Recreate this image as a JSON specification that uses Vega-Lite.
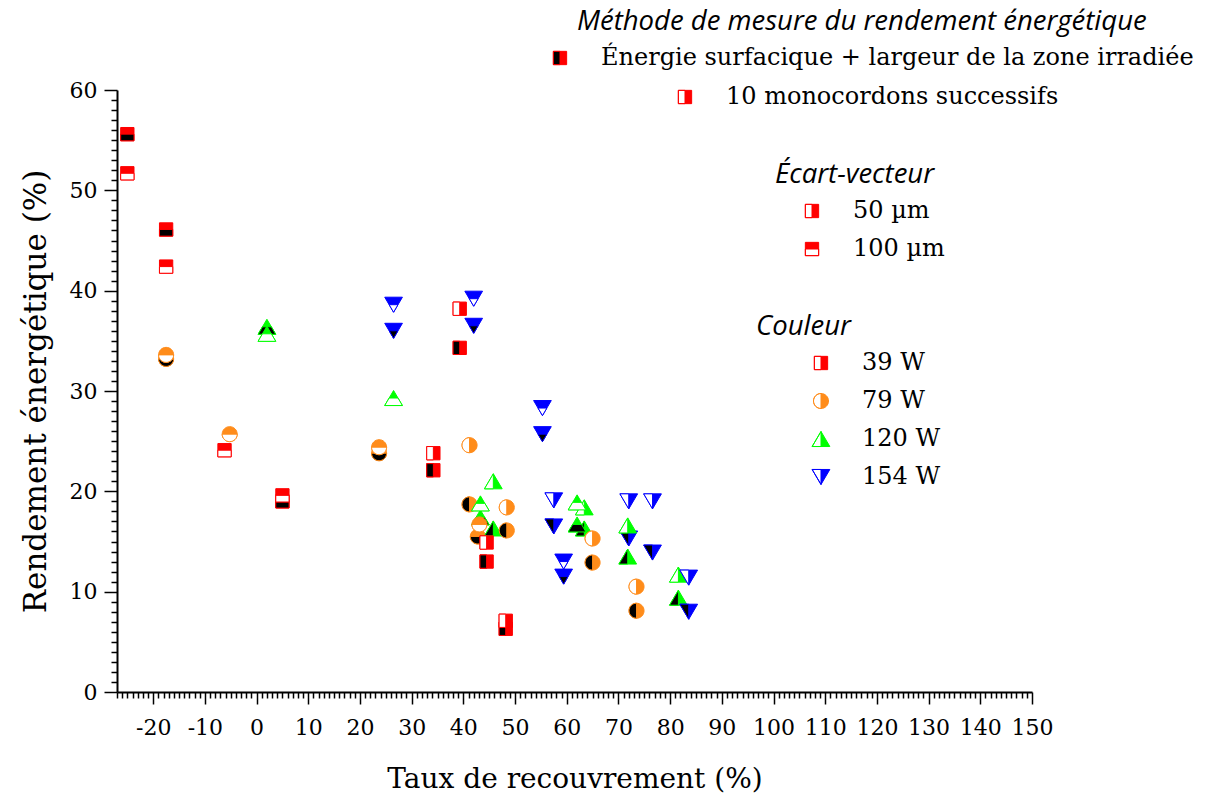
{
  "$schema": "https://vega.github.io/schema/vega-lite/v6.json",
  "width": 915,
  "height": 602,
  "autosize": {"type": "none"},
  "padding": {"left": 117, "top": 90, "right": 173, "bottom": 106},
  "background": "white",
  "config": {
    "view": {"stroke": null},
    "axis": {"domainColor": "black", "domainWidth": 2, "tickColor": "black", "tickWidth": 1.5, "labelFont": "DejaVu Serif", "labelFontSize": 22, "labelColor": "black", "titleFont": "DejaVu Serif", "titleFontSize": 28, "titleFontWeight": "normal", "titleColor": "black", "grid": false, "labelOverlap": false, "labelFlush": false, "labelBound": false},
    "legend": {"labelFont": "DejaVu Serif", "labelFontSize": 24, "labelColor": "black", "titleFont": "Open Sans", "titleFontStyle": "italic", "titleFontSize": 27.5, "titleFontWeight": "normal", "titleColor": "black", "symbolSize": 177, "labelOffset": 29, "rowPadding": 14, "padding": 0, "titleLimit": 1000, "labelLimit": 1000, "symbolStrokeWidth": 1, "titlePadding": 6}
  },
  "data": {"values": [
    {"x": -25, "y": 55.6, "p": "39 W", "v": 100, "m": "E"},
    {"x": -25, "y": 51.7, "p": "39 W", "v": 100, "m": "M"},
    {"x": -17.5, "y": 46.1, "p": "39 W", "v": 100, "m": "E"},
    {"x": -17.5, "y": 42.4, "p": "39 W", "v": 100, "m": "M"},
    {"x": -6.2, "y": 24.1, "p": "39 W", "v": 100, "m": "M"},
    {"x": 5.0, "y": 19.0, "p": "39 W", "v": 100, "m": "E"},
    {"x": 5.0, "y": 19.6, "p": "39 W", "v": 100, "m": "M"},
    {"x": 34.2, "y": 23.8, "p": "39 W", "v": 50, "m": "M"},
    {"x": 34.2, "y": 22.1, "p": "39 W", "v": 50, "m": "E"},
    {"x": 39.3, "y": 38.2, "p": "39 W", "v": 50, "m": "M"},
    {"x": 39.3, "y": 34.3, "p": "39 W", "v": 50, "m": "E"},
    {"x": 44.5, "y": 14.9, "p": "39 W", "v": 50, "m": "M"},
    {"x": 44.5, "y": 13.0, "p": "39 W", "v": 50, "m": "E"},
    {"x": 48.2, "y": 7.1, "p": "39 W", "v": 50, "m": "M"},
    {"x": 48.2, "y": 6.3, "p": "39 W", "v": 50, "m": "E"},
    {"x": -17.5, "y": 33.6, "p": "79 W", "v": 100, "m": "M"},
    {"x": -17.5, "y": 33.2, "p": "79 W", "v": 100, "m": "E"},
    {"x": -5.2, "y": 25.7, "p": "79 W", "v": 100, "m": "M"},
    {"x": 23.7, "y": 24.4, "p": "79 W", "v": 100, "m": "M"},
    {"x": 23.7, "y": 23.8, "p": "79 W", "v": 100, "m": "E"},
    {"x": 41.2, "y": 24.6, "p": "79 W", "v": 50, "m": "M"},
    {"x": 41.2, "y": 18.7, "p": "79 W", "v": 50, "m": "E"},
    {"x": 43.1, "y": 16.7, "p": "79 W", "v": 100, "m": "M"},
    {"x": 42.8, "y": 15.5, "p": "79 W", "v": 100, "m": "E"},
    {"x": 48.4, "y": 18.4, "p": "79 W", "v": 50, "m": "M"},
    {"x": 48.4, "y": 16.1, "p": "79 W", "v": 50, "m": "E"},
    {"x": 65.0, "y": 15.3, "p": "79 W", "v": 50, "m": "M"},
    {"x": 65.0, "y": 12.9, "p": "79 W", "v": 50, "m": "E"},
    {"x": 73.5, "y": 10.5, "p": "79 W", "v": 50, "m": "M"},
    {"x": 73.5, "y": 8.1, "p": "79 W", "v": 50, "m": "E"},
    {"x": 2.0, "y": 36.4, "p": "120 W", "v": 100, "m": "E"},
    {"x": 2.0, "y": 35.7, "p": "120 W", "v": 100, "m": "M"},
    {"x": 26.5, "y": 29.3, "p": "120 W", "v": 100, "m": "M"},
    {"x": 45.8, "y": 21.0, "p": "120 W", "v": 50, "m": "M"},
    {"x": 45.8, "y": 16.3, "p": "120 W", "v": 50, "m": "E"},
    {"x": 43.3, "y": 18.8, "p": "120 W", "v": 100, "m": "M"},
    {"x": 43.3, "y": 17.4, "p": "120 W", "v": 100, "m": "E"},
    {"x": 62.0, "y": 18.9, "p": "120 W", "v": 100, "m": "M"},
    {"x": 62.0, "y": 16.7, "p": "120 W", "v": 100, "m": "E"},
    {"x": 63.4, "y": 18.4, "p": "120 W", "v": 50, "m": "M"},
    {"x": 63.4, "y": 16.3, "p": "120 W", "v": 50, "m": "E"},
    {"x": 71.8, "y": 16.6, "p": "120 W", "v": 50, "m": "M"},
    {"x": 71.8, "y": 13.5, "p": "120 W", "v": 50, "m": "E"},
    {"x": 81.6, "y": 11.7, "p": "120 W", "v": 50, "m": "M"},
    {"x": 81.6, "y": 9.4, "p": "120 W", "v": 50, "m": "E"},
    {"x": 26.5, "y": 38.6, "p": "154 W", "v": 100, "m": "M"},
    {"x": 26.5, "y": 36.0, "p": "154 W", "v": 100, "m": "E"},
    {"x": 42.0, "y": 39.2, "p": "154 W", "v": 100, "m": "M"},
    {"x": 42.0, "y": 36.5, "p": "154 W", "v": 100, "m": "E"},
    {"x": 55.3, "y": 28.3, "p": "154 W", "v": 100, "m": "M"},
    {"x": 55.3, "y": 25.7, "p": "154 W", "v": 100, "m": "E"},
    {"x": 57.5, "y": 19.1, "p": "154 W", "v": 50, "m": "M"},
    {"x": 57.5, "y": 16.5, "p": "154 W", "v": 50, "m": "E"},
    {"x": 59.4, "y": 13.0, "p": "154 W", "v": 100, "m": "M"},
    {"x": 59.4, "y": 11.5, "p": "154 W", "v": 100, "m": "E"},
    {"x": 72.0, "y": 19.0, "p": "154 W", "v": 50, "m": "M"},
    {"x": 72.0, "y": 15.3, "p": "154 W", "v": 50, "m": "E"},
    {"x": 76.6, "y": 19.0, "p": "154 W", "v": 50, "m": "M"},
    {"x": 76.6, "y": 13.9, "p": "154 W", "v": 50, "m": "E"},
    {"x": 83.6, "y": 11.4, "p": "154 W", "v": 50, "m": "M"},
    {"x": 83.6, "y": 8.0, "p": "154 W", "v": 50, "m": "E"}
  ]},
  "encoding": {
    "x": {"field": "x", "type": "quantitative", "scale": {"domain": [-27, 150], "nice": false, "zero": false},
      "axis": {"title": "Taux de recouvrement (%)", "tickCount": 180, "labelExpr": "datum.value % 10 === 0 ? '' + datum.value : ''", "tickSize": {"condition": {"test": "datum.value % 10 === 0", "value": 12}, "value": 6}, "labelPadding": 13, "titlePadding": 27}},
    "y": {"field": "y", "type": "quantitative", "scale": {"domain": [0, 60], "nice": false, "zero": false},
      "axis": {"title": "Rendement énergétique (%)", "titleFontSize": 31, "tickCount": 60, "labelExpr": "datum.value % 10 === 0 ? '' + datum.value : ''", "tickSize": {"condition": {"test": "datum.value % 10 === 0", "value": 13}, "value": 6}, "labelPadding": 7, "titlePadding": 17}}
  },
  "layer": [
    {"transform": [{"filter": "datum.m === 'E'"}],
     "mark": {"type": "point", "filled": true, "opacity": 1, "size": 177, "strokeWidth": 1},
     "encoding": {
       "shape": {"field": "p", "type": "nominal", "scale": {"domain": ["39 W", "79 W", "120 W", "154 W"], "range": ["M-1,-1L1,-1L1,1L-1,1Z", "M-1.13,0A1.13,1.13,0,1,0,1.13,0A1.13,1.13,0,1,0,-1.13,0Z", "M0,-1.13L1.33,1.13L-1.33,1.13Z", "M-1.33,-1.13L1.33,-1.13L0,1.13Z"]}, "legend": null},
       "fill": {"field": "p", "type": "nominal", "scale": {"domain": ["39 W", "79 W", "120 W", "154 W"], "range": ["#ff0000", "#ff8c1a", "#00ff00", "#0000ff"]}, "legend": null},
       "stroke": {"field": "p", "type": "nominal", "scale": {"domain": ["39 W", "79 W", "120 W", "154 W"], "range": ["#ff0000", "#ff8c1a", "#00ff00", "#0000ff"]}, "legend": null}
     }},
    {"transform": [{"filter": "datum.m === 'E' && datum.v === 50"}],
     "mark": {"type": "point", "filled": true, "opacity": 1, "size": 177, "strokeWidth": 1, "fill": "#000000"},
     "encoding": {
       "shape": {"field": "p", "type": "nominal", "scale": {"domain": ["39 W", "79 W", "120 W", "154 W"], "range": ["M-1,-1L0,-1L0,1L-1,1Z", "M0,-1.13A1.13,1.13,0,0,0,0,1.13Z", "M0,-1.13L0,1.13L-1.33,1.13Z", "M-1.33,-1.13L0,-1.13L0,1.13Z"]}, "legend": null},
       "stroke": {"field": "p", "type": "nominal", "scale": {"domain": ["39 W", "79 W", "120 W", "154 W"], "range": ["#ff0000", "#ff8c1a", "#00ff00", "#0000ff"]}, "legend": null}
     }},
    {"transform": [{"filter": "datum.m === 'E' && datum.v === 100"}],
     "mark": {"type": "point", "filled": true, "opacity": 1, "size": 177, "strokeWidth": 1, "fill": "#000000"},
     "encoding": {
       "shape": {"field": "p", "type": "nominal", "scale": {"domain": ["39 W", "79 W", "120 W", "154 W"], "range": ["M-1,0L1,0L1,1L-1,1Z", "M-1.13,0A1.13,1.13,0,0,0,1.13,0Z", "M-0.665,0L0.665,0L1.33,1.13L-1.33,1.13Z", "M-0.665,0L0.665,0L0,1.13Z"]}, "legend": null},
       "stroke": {"field": "p", "type": "nominal", "scale": {"domain": ["39 W", "79 W", "120 W", "154 W"], "range": ["#ff0000", "#ff8c1a", "#00ff00", "#0000ff"]}, "legend": null}
     }},
    {"transform": [{"filter": "datum.m === 'M'"}],
     "mark": {"type": "point", "filled": true, "opacity": 1, "size": 177, "strokeWidth": 1},
     "encoding": {
       "shape": {"field": "p", "type": "nominal", "scale": {"domain": ["39 W", "79 W", "120 W", "154 W"], "range": ["M-1,-1L1,-1L1,1L-1,1Z", "M-1.13,0A1.13,1.13,0,1,0,1.13,0A1.13,1.13,0,1,0,-1.13,0Z", "M0,-1.13L1.33,1.13L-1.33,1.13Z", "M-1.33,-1.13L1.33,-1.13L0,1.13Z"]}, "legend": null},
       "fill": {"field": "p", "type": "nominal", "scale": {"domain": ["39 W", "79 W", "120 W", "154 W"], "range": ["#ff0000", "#ff8c1a", "#00ff00", "#0000ff"]}, "legend": null},
       "stroke": {"field": "p", "type": "nominal", "scale": {"domain": ["39 W", "79 W", "120 W", "154 W"], "range": ["#ff0000", "#ff8c1a", "#00ff00", "#0000ff"]}, "legend": null}
     }},
    {"transform": [{"filter": "datum.m === 'M' && datum.v === 50"}],
     "mark": {"type": "point", "filled": true, "opacity": 1, "size": 177, "strokeWidth": 1, "fill": "#ffffff"},
     "encoding": {
       "shape": {"field": "p", "type": "nominal", "scale": {"domain": ["39 W", "79 W", "120 W", "154 W"], "range": ["M-1,-1L0,-1L0,1L-1,1Z", "M0,-1.13A1.13,1.13,0,0,0,0,1.13Z", "M0,-1.13L0,1.13L-1.33,1.13Z", "M-1.33,-1.13L0,-1.13L0,1.13Z"]}, "legend": null},
       "stroke": {"field": "p", "type": "nominal", "scale": {"domain": ["39 W", "79 W", "120 W", "154 W"], "range": ["#ff0000", "#ff8c1a", "#00ff00", "#0000ff"]}, "legend": null}
     }},
    {"transform": [{"filter": "datum.m === 'M' && datum.v === 100"}],
     "mark": {"type": "point", "filled": true, "opacity": 1, "size": 177, "strokeWidth": 1, "fill": "#ffffff"},
     "encoding": {
       "shape": {"field": "p", "type": "nominal", "scale": {"domain": ["39 W", "79 W", "120 W", "154 W"], "range": ["M-1,0L1,0L1,1L-1,1Z", "M-1.13,0A1.13,1.13,0,0,0,1.13,0Z", "M-0.665,0L0.665,0L1.33,1.13L-1.33,1.13Z", "M-0.665,0L0.665,0L0,1.13Z"]}, "legend": null},
       "stroke": {"field": "p", "type": "nominal", "scale": {"domain": ["39 W", "79 W", "120 W", "154 W"], "range": ["#ff0000", "#ff8c1a", "#00ff00", "#0000ff"]}, "legend": null}
     }},
    {"transform": [{"filter": "false"}],
     "mark": {"type": "point", "filled": true, "opacity": 1},
     "encoding": {
       "fill": {"field": "m", "type": "nominal", "scale": {"domain": ["t"], "range": ["#ffffff"]},
         "legend": {"title": "Méthode de mesure du rendement énergétique", "orient": "none", "legendX": 460, "legendY": -82, "symbolOpacity": 0, "labelExpr": "''"}}
     }},
    {"transform": [{"filter": "false"}],
     "mark": {"type": "point", "filled": true, "opacity": 1, "stroke": "#ff0000", "strokeWidth": 1},
     "encoding": {
       "fill": {"field": "m", "type": "nominal", "scale": {"domain": ["Énergie surfacique + largeur de la zone irradiée"], "range": ["#ff0000"]},
         "legend": {"title": null, "orient": "none", "legendX": 431, "legendY": -44, "symbolType": "M-1,-1L1,-1L1,1L-1,1Z", "symbolStrokeColor": "#ff0000"}}
     }},
    {"transform": [{"filter": "false"}],
     "mark": {"type": "point", "filled": true, "opacity": 1, "stroke": "#ff0000", "strokeWidth": 1},
     "encoding": {
       "fill": {"field": "m", "type": "nominal", "scale": {"domain": ["Énergie surfacique + largeur de la zone irradiée"], "range": ["#000000"]},
         "legend": {"title": null, "orient": "none", "legendX": 431, "legendY": -44, "symbolType": "M-1,-1L0,-1L0,1L-1,1Z", "symbolStrokeColor": "#ff0000", "labelExpr": "''"}}
     }},
    {"transform": [{"filter": "false"}],
     "mark": {"type": "point", "filled": true, "opacity": 1, "stroke": "#ff0000", "strokeWidth": 1},
     "encoding": {
       "fill": {"field": "m", "type": "nominal", "scale": {"domain": ["10 monocordons successifs"], "range": ["#ff0000"]},
         "legend": {"title": null, "orient": "none", "legendX": 556, "legendY": -5, "symbolType": "M0,-1L1,-1L1,1L0,1ZM0,-1L-1,-1L-1,1L0,1L-1,1L-1,-1Z", "symbolStrokeColor": "#ff0000"}}
     }},
    {"transform": [{"filter": "false"}],
     "mark": {"type": "point", "filled": true, "opacity": 1},
     "encoding": {
       "fill": {"field": "m", "type": "nominal", "scale": {"domain": ["t"], "range": ["#ffffff"]},
         "legend": {"title": "Écart-vecteur", "orient": "none", "legendX": 658, "legendY": 71, "symbolOpacity": 0, "labelExpr": "''"}}
     }},
    {"transform": [{"filter": "false"}],
     "mark": {"type": "point", "filled": true, "opacity": 1, "strokeWidth": 1},
     "encoding": {
       "shape": {"field": "v", "type": "nominal", "scale": {"domain": ["50 µm", "100 µm"], "range": ["M0,-1L1,-1L1,1L0,1ZM0,-1L-1,-1L-1,1L0,1L-1,1L-1,-1Z", "M-1,-1L1,-1L1,0L-1,0ZM-1,0L-1,1L1,1L1,0L1,1L-1,1Z"]},
         "legend": {"title": null, "orient": "none", "legendX": 683, "legendY": 109}},
       "fill": {"field": "v", "type": "nominal", "scale": {"domain": ["50 µm", "100 µm"], "range": ["#ff0000", "#ff0000"]},
         "legend": {"title": null, "orient": "none", "legendX": 683, "legendY": 109}},
       "stroke": {"field": "v", "type": "nominal", "scale": {"domain": ["50 µm", "100 µm"], "range": ["#ff0000", "#ff0000"]},
         "legend": {"title": null, "orient": "none", "legendX": 683, "legendY": 109}}
     }},
    {"transform": [{"filter": "false"}],
     "mark": {"type": "point", "filled": true, "opacity": 1},
     "encoding": {
       "fill": {"field": "m", "type": "nominal", "scale": {"domain": ["t"], "range": ["#ffffff"]},
         "legend": {"title": "Couleur", "orient": "none", "legendX": 639, "legendY": 223, "symbolOpacity": 0, "labelExpr": "''"}}
     }},
    {"transform": [{"filter": "false"}],
     "mark": {"type": "point", "filled": true, "opacity": 1, "strokeWidth": 1},
     "encoding": {
       "shape": {"field": "p", "type": "nominal", "scale": {"domain": ["39 W", "79 W", "120 W", "154 W"], "range": ["M0,-1L1,-1L1,1L0,1ZM0,-1L-1,-1L-1,1L0,1L-1,1L-1,-1Z", "M0,-1.13A1.13,1.13,0,0,1,0,1.13ZM0,-1.13A1.13,1.13,0,0,0,0,1.13A1.13,1.13,0,0,1,0,-1.13Z", "M0,-1.13L1.33,1.13L0,1.13ZM0,-1.13L-1.33,1.13L0,1.13L-1.33,1.13Z", "M0,-1.13L1.33,-1.13L0,1.13ZM0,-1.13L-1.33,-1.13L0,1.13L-1.33,-1.13Z"]},
         "legend": {"title": null, "orient": "none", "legendX": 692, "legendY": 261}},
       "fill": {"field": "p", "type": "nominal", "scale": {"domain": ["39 W", "79 W", "120 W", "154 W"], "range": ["#ff0000", "#ff8c1a", "#00ff00", "#0000ff"]},
         "legend": {"title": null, "orient": "none", "legendX": 692, "legendY": 261}},
       "stroke": {"field": "p", "type": "nominal", "scale": {"domain": ["39 W", "79 W", "120 W", "154 W"], "range": ["#ff0000", "#ff8c1a", "#00ff00", "#0000ff"]},
         "legend": {"title": null, "orient": "none", "legendX": 692, "legendY": 261}}
     }}
  ],
  "resolve": {
    "scale": {"fill": "independent", "shape": "independent", "stroke": "independent"},
    "legend": {"fill": "independent", "shape": "independent", "stroke": "independent"}
  }
}
